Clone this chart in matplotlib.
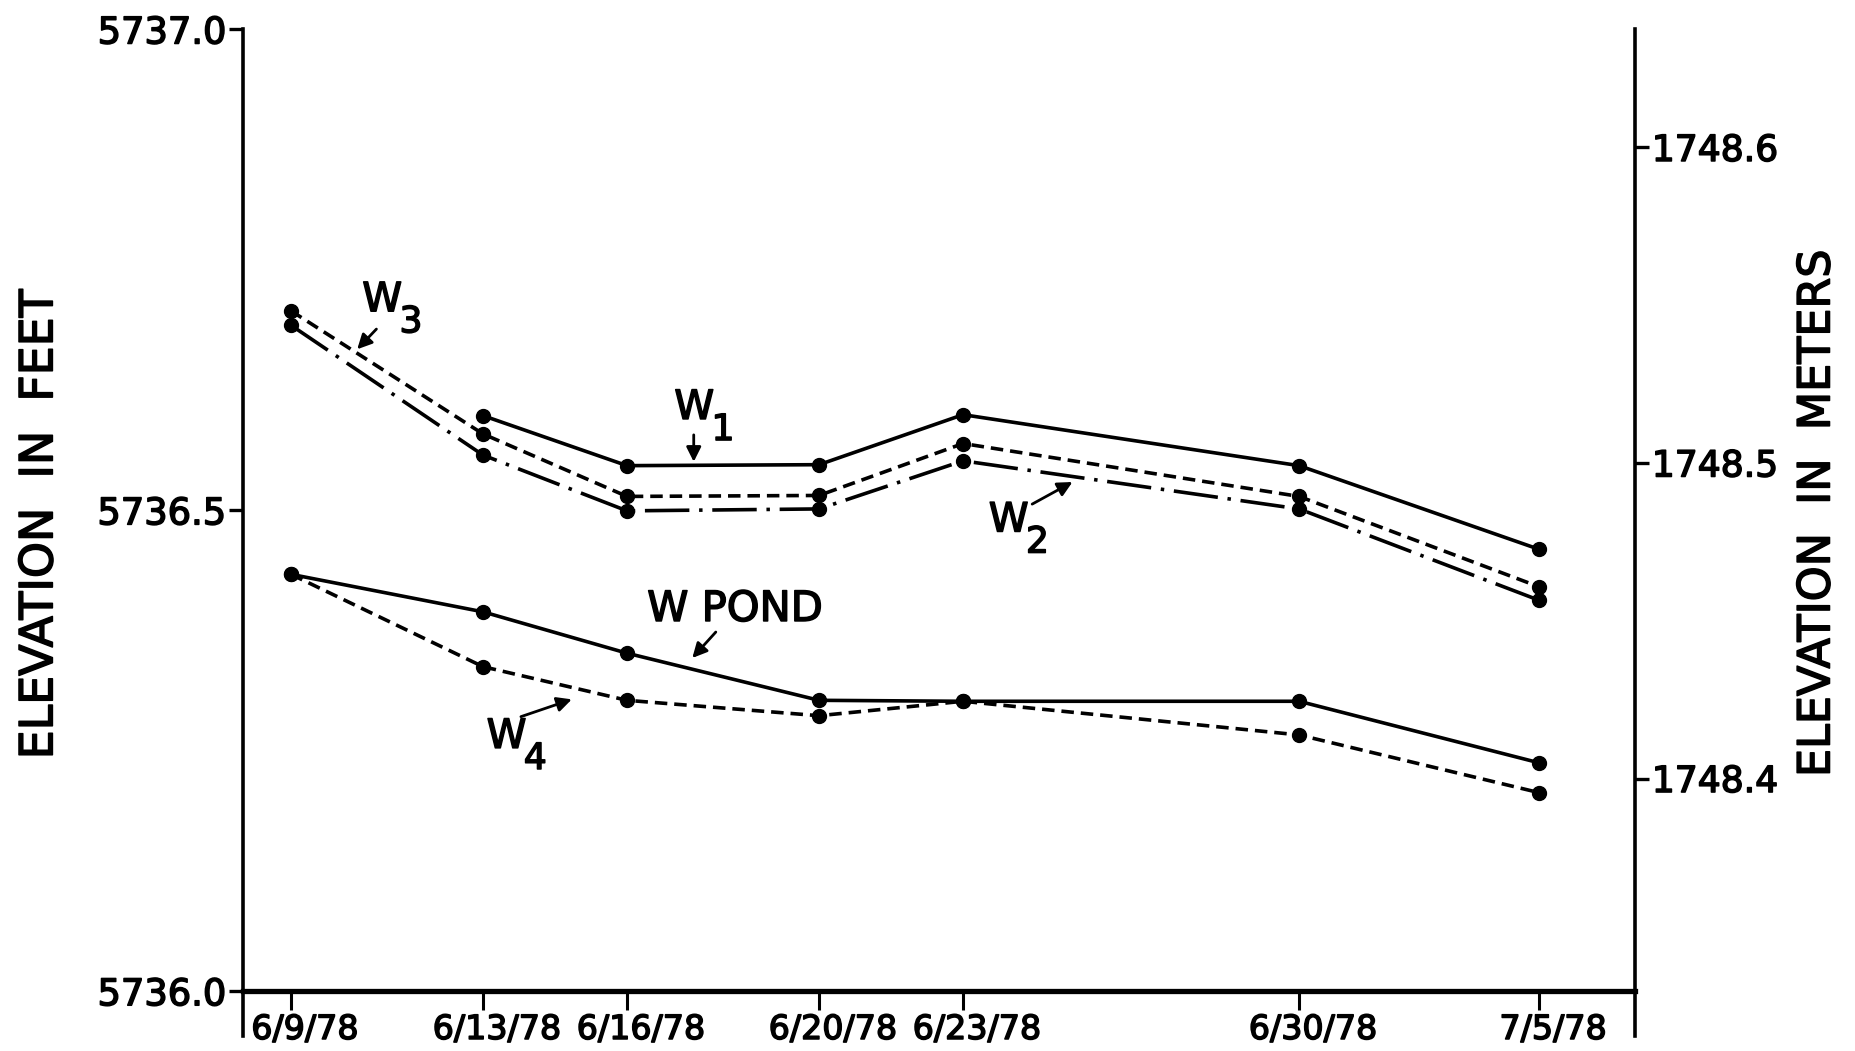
"""
Water surface elevations at the W wells and W pond, June-July 1978.
"""

import matplotlib
matplotlib.use("Agg")
import matplotlib.pyplot as plt
import matplotlib.patheffects as pe
import matplotlib.transforms as mtransforms


FT_PER_M = 3.28084

# days after 6/9/78
DAYS = [0, 4, 7, 11, 14, 21, 26]
DATE_LABELS = ["6/9/78", "6/13/78", "6/16/78", "6/20/78", "6/23/78", "6/30/78", "7/5/78"]

W1_DAYS = [4, 7, 11, 14, 21, 26]
W1 = [5736.598, 5736.546, 5736.547, 5736.599, 5736.546, 5736.459]
W2 = [5736.692, 5736.557, 5736.499, 5736.501, 5736.551, 5736.501, 5736.406]
W3 = [5736.707, 5736.579, 5736.514, 5736.515, 5736.569, 5736.514, 5736.420]
W_POND = [5736.433, 5736.394, 5736.351, 5736.302, 5736.301, 5736.301, 5736.237]
W4 = [5736.433, 5736.337, 5736.302, 5736.286, 5736.301, 5736.266, 5736.206]

FEET_TICKS = [5736.0, 5736.5, 5737.0]
METER_TICKS = [1748.4, 1748.5, 1748.6]

# slightly heavier than the regular weight, like the lettering set
INK = [pe.withStroke(linewidth=1.1, foreground="black")]


def draw_series(ax):

    style = dict(color="black", lw=2.6, marker="o", markersize=10)

    ax.plot(W1_DAYS, W1, linestyle="-", **style)
    ax.plot(DAYS, W3, dashes=(9, 5), **style)
    ax.plot(DAYS, W2, dashes=(32, 7, 2.5, 7), **style)
    ax.plot(DAYS, W_POND, linestyle="-", **style)
    ax.plot(DAYS, W4, dashes=(9, 5), **style)


def label_well(ax, name, sub, pos, tail, head, size=29):

    ax.text(pos[0], pos[1], name, fontsize=size, ha="center", va="center",
            path_effects=INK)

    if sub:
        ax.text(pos[0] + 0.6, pos[1] - 0.023, sub, fontsize=26,
                ha="center", va="center", path_effects=INK)

    ax.annotate(
        "",
        xy=head,
        xytext=tail,
        arrowprops=dict(arrowstyle="-|>", lw=2.0, color="black",
                        mutation_scale=22, shrinkA=0, shrinkB=0),
    )


def main():

    plt.rcParams["font.family"] = ["DejaVu Sans"]
    plt.rcParams["lines.scale_dashes"] = False

    fig = plt.figure(figsize=(18.56, 10.51), dpi=100)
    ax = fig.add_axes([0.1309, 0.0143, 0.881 - 0.1309, 0.9724 - 0.0143])

    draw_series(ax)

    ax.set_xlim(-1, 28)
    ax.set_ylim(5735.953, 5737.0)

    ax.spines["top"].set_visible(False)
    ax.spines["right"].set_visible(False)
    ax.spines["left"].set_linewidth(2.6)
    ax.spines["bottom"].set_linewidth(3.8)
    ax.spines["bottom"].set_position(("data", 5736.0))

    ax.set_yticks(FEET_TICKS)
    ax.set_yticklabels([f"{v:.1f}" for v in FEET_TICKS])
    ax.tick_params(axis="y", direction="out", length=10, width=2.4,
                   labelsize=26.5, pad=2)

    ax.set_xticks(DAYS)
    ax.set_xticklabels(DATE_LABELS)
    ax.tick_params(axis="x", direction="out", length=14, width=2.2,
                   labelsize=24, pad=2)

    shift = mtransforms.ScaledTranslation(0.14, 0, fig.dpi_scale_trans)
    for lbl in ax.get_xticklabels():
        lbl.set_transform(lbl.get_transform() + shift)
        lbl.set_path_effects(INK)
    for lbl in ax.get_yticklabels():
        lbl.set_path_effects(INK)

    sec = ax.secondary_yaxis(
        "right",
        functions=(lambda f: f / FT_PER_M, lambda m: m * FT_PER_M),
    )
    sec.set_yticks(METER_TICKS)
    sec.set_yticklabels([f"{v:.1f}" for v in METER_TICKS])
    sec.tick_params(direction="out", length=10, width=2.4, labelsize=26, pad=2)
    sec.spines["right"].set_linewidth(2.6)
    for lbl in sec.get_yticklabels():
        lbl.set_path_effects(INK)

    label_well(ax, "W", "3", (1.90, 5736.718), (1.78, 5736.688), (1.38, 5736.667))
    label_well(ax, "W", "1", (8.40, 5736.606), (8.39, 5736.578), (8.39, 5736.550))
    label_well(ax, "W", "2", (14.95, 5736.489), (15.44, 5736.506), (16.28, 5736.529))
    label_well(ax, "W POND", None, (9.25, 5736.397), (8.85, 5736.373),
               (8.36, 5736.346), size=30)
    label_well(ax, "W", "4", (4.49, 5736.264), (4.79, 5736.285), (5.85, 5736.303))

    fig.text(0.0215, 0.5014, "ELEVATION  IN  FEET", rotation=90,
             fontsize=33, ha="center", va="center", path_effects=INK)
    fig.text(0.979, 0.512, "ELEVATION  IN  METERS", rotation=90,
             fontsize=32, ha="center", va="center", path_effects=INK)

    fig.savefig("out.png", dpi=100, facecolor="white")


if __name__ == "__main__":

    main()
